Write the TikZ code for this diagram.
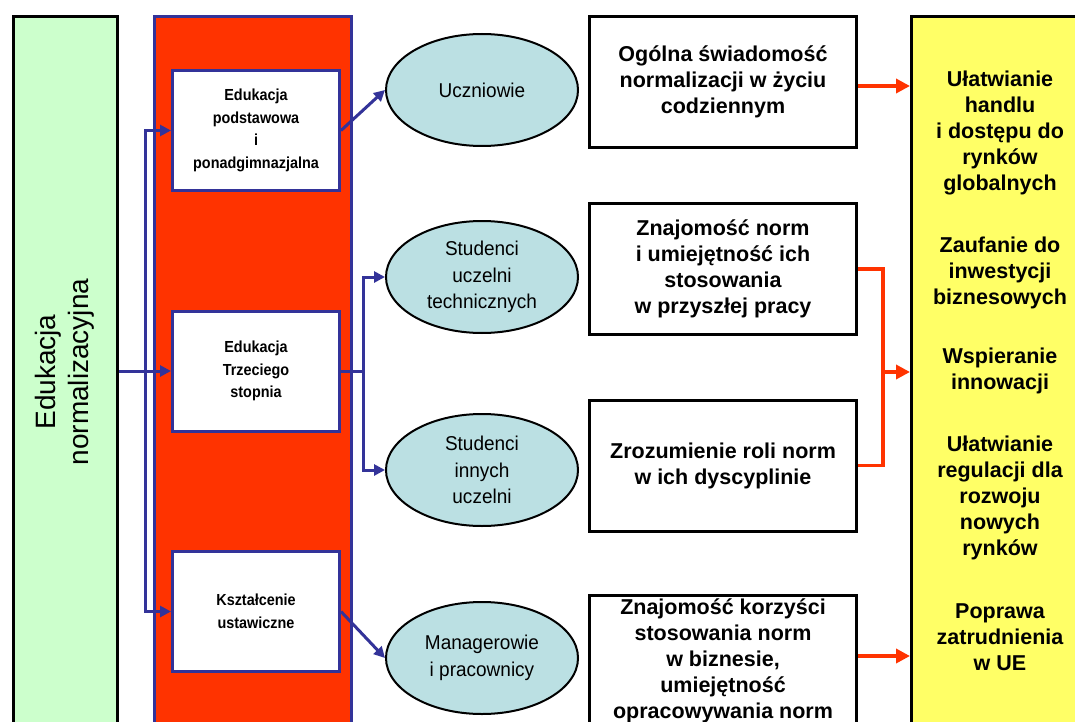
\documentclass[tikz,border=0pt]{standalone}
\usepackage{fontspec}
\setmainfont{Liberation Sans}
\newfontfamily\colfont[FakeStretch=0.9]{Liberation Sans}
\newfontfamily\ellfont[FakeStretch=0.95]{Liberation Sans}
\usetikzlibrary{arrows.meta,shapes.geometric}
\definecolor{redcol}{HTML}{FF3300}
\definecolor{bluecol}{HTML}{333399}
\definecolor{ellfill}{HTML}{BBE0E3}
\definecolor{greenfill}{HTML}{CCFFCC}
\definecolor{yellowfill}{HTML}{FFFF66}
\tikzset{
  colbox/.style={draw=bluecol, line width=3pt, fill=white, minimum width=167pt, minimum height=120pt, inner sep=0pt, align=center, font=\colfont\bfseries\fontsize{16}{22.5}\selectfont},
  ell/.style={ellipse, draw=black, line width=2pt, fill=ellfill, minimum width=192pt, minimum height=112pt, inner sep=0pt, align=center, font=\ellfont\fontsize{20}{26.5}\selectfont},
  resbox/.style={draw=black, line width=3pt, fill=white, minimum width=267pt, minimum height=131pt, inner sep=0pt, align=center, font=\bfseries\fontsize{21.5}{26}\selectfont},
  ytext/.style={align=center, inner sep=0pt, font=\bfseries\fontsize{21.5}{26}\selectfont},
  barrow/.style={draw=bluecol, line width=3pt, -{Triangle[length=11pt,width=11pt]}},
  bline/.style={draw=bluecol, line width=3pt},
  rarrow/.style={draw=redcol, line width=3.5pt, -{Triangle[length=14pt,width=14pt]}},
  rline/.style={draw=redcol, line width=3.5pt},
}
\begin{document}
\begin{tikzpicture}[x=1pt,y=-1pt]
\clip (0,0) rectangle (1075,722);
\fill[white] (0,0) rectangle (1075,722);

% columns
\node[draw=black, line width=3pt, fill=greenfill, minimum width=104pt, minimum height=730pt, inner sep=0pt, anchor=north west] (green) at (12,15) {};
\node[rotate=90, align=center, inner sep=0pt, font=\fontsize{28}{33}\selectfont] (greentext) at (65,372) {Edukacja\\normalizacyjna};
\node[draw=bluecol, line width=3pt, fill=redcol, minimum width=197pt, minimum height=730pt, inner sep=0pt, anchor=north west] (redcolumn) at (153,15) {};
\node[draw=black, line width=3pt, fill=yellowfill, minimum width=200pt, minimum height=730pt, inner sep=0pt, anchor=north west] (Y) at (910,15) {};

% education boxes
\node[colbox] (box1) at (256,130.5) {Edukacja\\podstawowa\\i\\ponadgimnazjalna};
\node[colbox] (box2) at (256,371) {Edukacja\\Trzeciego\\stopnia};
\node[colbox] (box3) at (256,611.5) {Kształcenie\\ustawiczne};

% ellipses
\node[ell] (uc) at (482,90) {Uczniowie};
\node[ell] (st) at (482,277) {Studenci\\uczelni\\technicznych};
\node[ell] (si) at (482,470) {Studenci\\innych\\uczelni};
\node[ell] (mp) at (482,658) {Managerowie\\i pracownicy};

% result boxes
\node[resbox] (A) at (723,82) {Ogólna świadomość\\normalizacji w życiu\\codziennym};
\node[resbox] (B) at (723,269) {Znajomość norm\\i umiejętność ich\\stosowania\\w przyszłej pracy};
\node[resbox] (C) at (723,465.5) {Zrozumienie roli norm\\w ich dyscyplinie};
\node[resbox] (D) at (723,661) {Znajomość korzyści\\stosowania norm\\w biznesie,\\umiejętność\\opracowywania norm};

% yellow texts
\node[ytext] (y1) at (1000,133) {Ułatwianie\\handlu\\i dostępu do\\rynków\\globalnych};
\node[ytext] (y2) at (1000,273) {Zaufanie do\\inwestycji\\biznesowych};
\node[ytext] (y3) at (1000,371) {Wspieranie\\innowacji};
\node[ytext] (y4) at (1000,498) {Ułatwianie\\regulacji dla\\rozwoju\\nowych\\rynków};
\node[ytext] (y5) at (1000,637) {Poprawa\\zatrudnienia\\w UE};

% blue connectors
\coordinate (j1) at (145,371);
\draw[barrow] (green.east |- box2.west) -- (box2.west);
\draw[barrow] (j1) |- (box1.west);
\draw[barrow] (j1) |- (box3.west);
\draw[barrow] (box1.east) -- (uc.west);
\coordinate (j2) at (363,371);
\draw[bline] (box2.east) -- (j2);
\draw[barrow] (j2) |- (st.west);
\draw[barrow] (j2) |- (si.west);
\draw[barrow] (box3.east) -- (mp.west);

% red connectors
\draw[rarrow] ([yshift=-4pt]A.east) -- ([yshift=-4pt]A.east -| Y.west);
\coordinate (j3) at (883,372);
\draw[rline] (B.east) -| (j3) |- (C.east);
\draw[rarrow] (j3) -- (j3 -| Y.west);
\draw[rarrow] ([yshift=5pt]D.east) -- ([yshift=5pt]D.east -| Y.west);
\end{tikzpicture}
\end{document}
